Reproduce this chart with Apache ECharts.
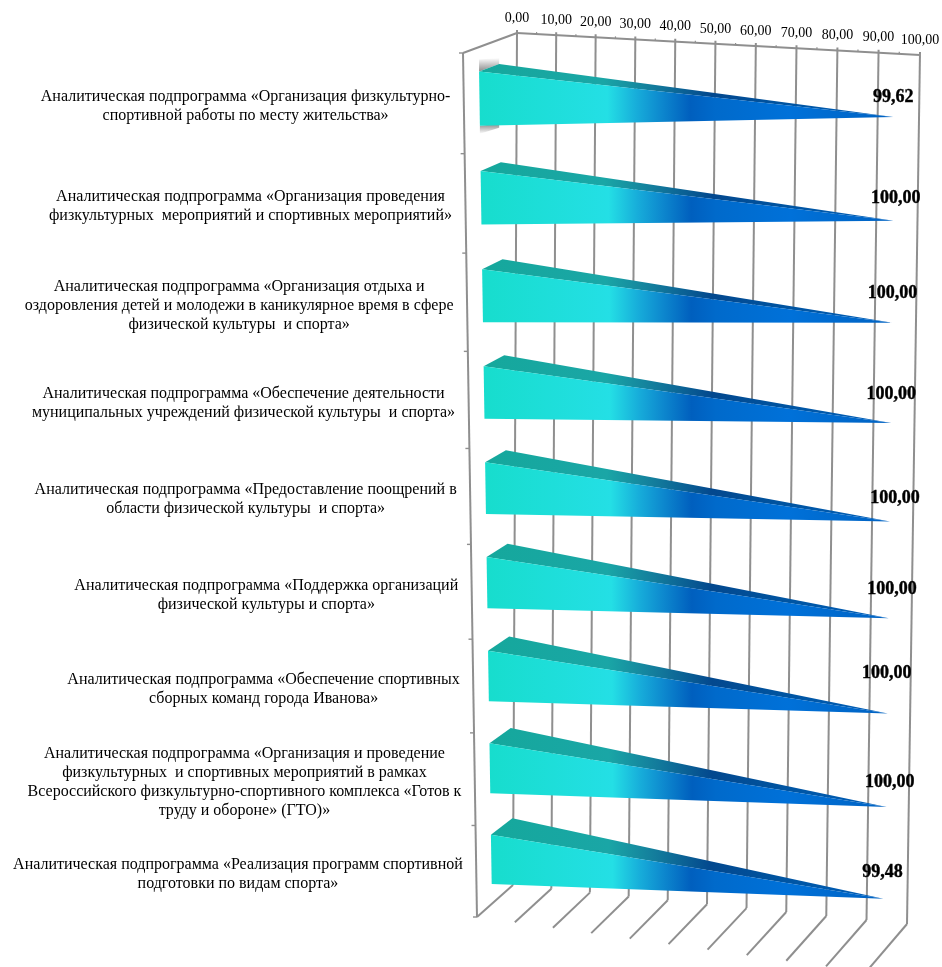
<!DOCTYPE html>
<html><head><meta charset="utf-8">
<style>html,body{margin:0;padding:0;background:#fff}#c{width:942px;height:967px}</style>
<script src="https://cdn.jsdelivr.net/npm/echarts@6/dist/echarts.min.js"></script>
</head><body><div id="c"></div>
<script>
const categories = [
 "Аналитическая подпрограмма «Организация физкультурно-\nспортивной работы по месту жительства»",
 "Аналитическая подпрограмма «Организация проведения\nфизкультурных  мероприятий и спортивных мероприятий»",
 "Аналитическая подпрограмма «Организация отдыха и\nоздоровления детей и молодежи в каникулярное время в сфере\nфизической культуры  и спорта»",
 "Аналитическая подпрограмма «Обеспечение деятельности\nмуниципальных учреждений физической культуры  и спорта»",
 "Аналитическая подпрограмма «Предоставление поощрений в\nобласти физической культуры  и спорта»",
 "Аналитическая подпрограмма «Поддержка организаций\nфизической культуры и спорта»",
 "Аналитическая подпрограмма «Обеспечение спортивных\nсборных команд города Иванова»",
 "Аналитическая подпрограмма «Организация и проведение\nфизкультурных  и спортивных мероприятий в рамках\nВсероссийского физкультурно-спортивного комплекса «Готов к\nтруду и обороне» (ГТО)»",
 "Аналитическая подпрограмма «Реализация программ спортивной\nподготовки по видам спорта»"
];
const values = [99.62,100,100,100,100,100,100,100,99.48];
const valueTicks = [0,10,20,30,40,50,60,70,80,90,100];
const minorTicks = [5,15,25,35,45,55,65,75,85,95];
const tickLabels = ["0,00","10,00","20,00","30,00","40,00","50,00","60,00","70,00","80,00","90,00","100,00"];
// small hand nudges of the value labels relative to each cone tip
const labelNudge = [[0,-20],[2,-22],[0,-29],[0,-29],[5,-23],[3,-29],[-1,-40],[3,-25],[-1,-26]];

const W=942,H=967,GRAY='#8f8f8f',SERIF='"Liberation Serif","Times New Roman",serif';
const warp=(a,k)=>a*(1+k)/(1+k*a), KT=0.055, KU=-0.03;
const mix=(a,b,s)=>a+(b-a)*s;
function quad(q,u,t,kr){const U=warp(u,KU),TL=warp(t,KT),TR=warp(t,kr===undefined?KT:kr);
  const L=[mix(q[0][0],q[2][0],TL),mix(q[0][1],q[2][1],TL)],R=[mix(q[1][0],q[3][0],TR),mix(q[1][1],q[3][1],TR)];
  return [mix(L[0],R[0],U),mix(L[1],R[1],U)];}
const BACK=[[517,33],[920,55],[513,885],[907,924]];
const FRONT=[[463,53],[877,70],[477,917],[866,972]];
const BARP=[[478.7,48.7],[895.5,64.5],[492,904.7],[885,944.5]];
const norm=(api,v,i)=>{const c=api.coord([v,i]);return [c[0]/W,c[1]/H];};
const lineEl=(a,b,w)=>({type:'line',shape:{x1:a[0],y1:a[1],x2:b[0],y2:b[1]},style:{stroke:GRAY,lineWidth:w||2}});
const grad=(stops,x2,y2)=>({type:'linear',x:0,y:0,x2:x2,y2:y2,colorStops:stops.map(s=>({offset:s[0],color:s[1]}))});
const frontStops=[[0,'#17DDCD'],[.31,'#24DFE5'],[.38,'#17ADDA'],[.44,'#0D88CE'],[.51,'#005FBE'],[.57,'#006ACB'],[.75,'#0071D9'],[1,'#0062C2']];
const topStops=[[0,'#15A89C'],[.3,'#1AA6A6'],[.42,'#137C9C'],[.56,'#03488E'],[.72,'#00539F'],[1,'#0060BC']];
const mctx=document.createElement('canvas').getContext('2d');
function textWidth(s,font){mctx.font=font;return Math.max(...s.split('\n').map(l=>mctx.measureText(l).width));}

const chart=echarts.init(document.getElementById('c'),null,{renderer:'canvas',width:W,height:H});
const base={type:'custom',silent:true,clip:false,animation:false,coordinateSystem:'cartesian2d'};
chart.setOption({
 backgroundColor:'#fff',animation:false,
 grid:{left:0,right:0,top:0,bottom:0},
 xAxis:{type:'value',min:0,max:100,interval:10,show:false},
 yAxis:{type:'category',inverse:true,data:categories,show:false},
 series:[
  {...base,name:'verticals',data:valueTicks.map((v,i)=>[v,0,i]),renderItem(p,api){
    const u=norm(api,api.value(0),0)[0];
    const a=quad(BACK,u,0),b=quad(BACK,u,1),f=quad(FRONT,u,1);
    return {type:'group',children:[
      lineEl([a[0],a[1]-3],b),lineEl(b,f),
      {type:'text',style:{text:tickLabels[api.value(2)],x:a[0],y:a[1]-15,align:'center',verticalAlign:'middle',fontFamily:SERIF,fontSize:14,fill:'#000'}}
    ]};}},
  {...base,name:'minor',data:minorTicks.map(v=>[v,0]),renderItem(p,api){
    const u=norm(api,api.value(0),0)[0],a=quad(BACK,u,0);
    return lineEl([a[0],a[1]-2],a,1.2);}},
  {...base,name:'walls',data:[[0,0]],renderItem(){
    return {type:'group',children:[
      lineEl(quad(BACK,0,0),quad(BACK,1,0)),
      lineEl(quad(BACK,0,0),quad(FRONT,0,0)),
      lineEl(quad(FRONT,0,0),quad(FRONT,0,1))
    ]};}},
  {...base,name:'catTicks',data:categories.map((c,i)=>[0,i]),renderItem(p,api){
    const i=api.value(1),c=norm(api,0,i)[1],h=api.size([0,1])[1]/H/2;
    const a=quad(FRONT,0,c-h),k=[lineEl([a[0]-4,a[1]],a,1.4)];
    if(i===categories.length-1){const b=quad(FRONT,0,c+h);k.push(lineEl([b[0]-4,b[1]],b,1.4));}
    return {type:'group',children:k};}},
  {...base,name:'Исполнение',data:values.map((v,i)=>[v,i]),renderItem(p,api){
    const v=api.value(0),i=api.value(1),n=norm(api,0,i),tip=norm(api,v,i);
    const band=api.size([0,1])[1]/H,h=band*.272,c=n[1];
    const A=quad(BARP,0,c-h),B=quad(BARP,0,c+h),T=quad(BARP,tip[0],c,.08);
    const tw=warp(c,KT),K=[A[0]+20+1.5*tw,A[1]-7-10*tw];
    const kids=[];
    if(i===0){
      kids.push({type:'polygon',shape:{points:[A,K,[K[0],K[1]-6],[A[0],A[1]-12]]},style:{fill:grad([[0,'#ffffff'],[1,'#8a8a8a']],0,1)}});
      kids.push({type:'polygon',shape:{points:[B,[K[0],B[1]-2],[K[0],B[1]+2],[B[0],B[1]+8]]},style:{fill:grad([[0,'#8a8a8a'],[1,'#ffffff']],0,1)}});
    }
    kids.push({type:'polygon',shape:{points:[A,K,T]},style:{fill:grad(topStops,1,0)}});
    kids.push({type:'polygon',shape:{points:[A,B,T]},style:{fill:grad(frontStops,1,0)}});
    return {type:'group',children:kids};}},
  {...base,name:'labels',data:values.map((v,i)=>[v,i]),renderItem(p,api){
    const v=api.value(0),i=api.value(1),n=norm(api,0,i),tip=norm(api,v,i);
    const T=quad(BARP,tip[0],n[1],.08),w=quad(FRONT,0,n[1]);
    const s=categories[i];
    const cx=w[0]-13.5-textWidth(s,'16px '+SERIF)/2;
    return {type:'group',children:[
      {type:'text',style:{text:s,x:cx,y:w[1]+3,align:'center',verticalAlign:'middle',fontFamily:SERIF,fontSize:16,lineHeight:19,fill:'#000'}},
      {type:'text',style:{text:v.toFixed(2).replace('.',','),x:T[0]+labelNudge[i][0],y:T[1]+labelNudge[i][1],align:'center',verticalAlign:'middle',fontFamily:SERIF,fontSize:18,fontWeight:'bold',fill:'#000',stroke:'#000',lineWidth:.4}}
    ]};}}
 ]
});
</script></body></html>
